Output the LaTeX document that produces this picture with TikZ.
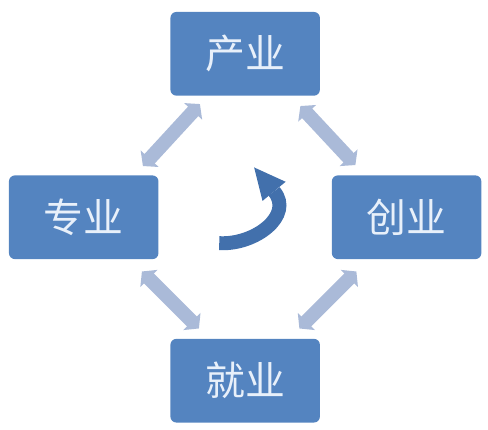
\documentclass[tikz,border=0pt]{standalone}
\usepackage{fontspec}
\newfontfamily\cjk{Noto Sans CJK SC}
\usetikzlibrary{calc,arrows.meta}
\definecolor{boxblue}{RGB}{84,132,192}
\definecolor{arrowgray}{RGB}{170,186,216}
\definecolor{curveblue}{RGB}{66,112,172}
\definecolor{textwhite}{RGB}{232,240,250}
\tikzset{
  box/.style={fill=boxblue, rounded corners=3pt, minimum width=75pt,
    minimum height=42pt, text=textwhite, font=\cjk\fontsize{20}{24}\selectfont},
  link/.style={draw=arrowgray, line width=7pt,
    {Triangle[width=12pt,length=5pt]}-{Triangle[width=12pt,length=5pt]}}
}
\begin{document}
\begin{tikzpicture}
  \matrix (m) [column sep=6pt, row sep=40pt]
  {
    & \node[box] (chanye) {产业}; & \\
    \node[box] (zhuanye) {专业}; & & \node[box] (chuangye) {创业}; \\
    & \node[box] (jiuye) {就业}; & \\
  };
  \useasboundingbox ($(m.center)+(-123pt,109pt)$) rectangle ($(m.center)+(121pt,-104.5pt)$);
  % links between the four boxes
  \draw[link] ($(chanye.south west)+(15pt,-4pt)$) -- ($(zhuanye.north east)+(-8pt,4.5pt)$);
  \draw[link] ($(chanye.south east)+(-10pt,-5pt)$) -- ($(chuangye.north west)+(12pt,5pt)$);
  \draw[link] ($(zhuanye.south east)+(-8.5pt,-6pt)$) -- ($(jiuye.north west)+(14.5pt,5pt)$);
  \draw[link] ($(chuangye.south west)+(12.5pt,-6pt)$) -- ($(jiuye.north east)+(-10.5pt,5pt)$);
  % turning arrow in the middle
  \coordinate (c0) at ($(m.center)+(-13pt,-13pt)$);
  \coordinate (c1) at ($(m.center)+(14.5pt,13pt)$);
  \draw[curveblue, line width=7pt]
    (c0) .. controls ($(m.center)+(5pt,-14pt)$) and ($(m.center)+(24.5pt,1pt)$) .. (c1);
  \fill[curveblue] ($(m.center)+(4.5pt,25pt)$) -- ($(m.center)+(20.3pt,17.8pt)$)
    -- ($(m.center)+(8.7pt,8.2pt)$) -- cycle;
\end{tikzpicture}
\end{document}
